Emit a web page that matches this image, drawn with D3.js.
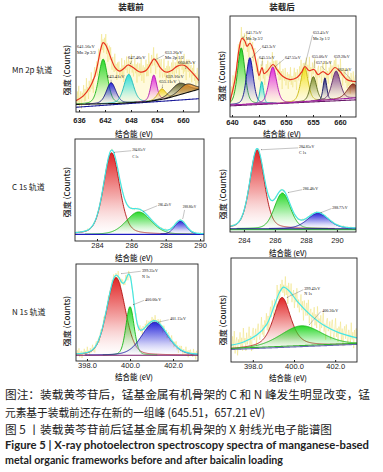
<!DOCTYPE html>
<html lang="zh">
<head>
<meta charset="UTF-8">
<title>XPS spectra</title>
<script src="https://d3js.org/d3.v7.min.js"></script>
<style>
  body { margin: 0; background: #fff; }
  svg text { font-family: "Noto Sans CJK SC", "Noto Sans", sans-serif; fill: #222; }
  .tick text { font-family: "Liberation Sans", Arial, sans-serif; }
  .note { font-family: "Liberation Serif", "DejaVu Serif", serif; fill: #111; }
</style>
</head>
<body>
<svg id="fig" width="383" height="472"></svg>
<script>
// ---------- data (binding energy in eV, intensity in % of panel height) ----------
// Mn 2p before loading
const mnBeforeCenters = [641.56, 643.41, 647.46, 653.26, 655.11, 659.16, 660.87];
const mnBeforeHeights = [47, 22, 30, 27, 11, 12, 9];
const mnBeforeWidths  = [2.4, 2.6, 2.6, 1.6, 2.2, 4.5, 4.0];
const mnBeforeBg  = [[635.3, 8], [645, 9], [652, 11], [656, 14], [663.7, 24]];
const mnBeforeBg2 = [[635.3, 5], [663.7, 14]];
const mnBeforeEnvelope = [[635.3, 12], [637, 17], [638.5, 26], [639.5, 36], [640.2, 48], [641, 66],
  [641.55, 73], [642.1, 71], [642.7, 65], [643.5, 55], [644.3, 47], [645.4, 43], [646.4, 46],
  [647.3, 49.5], [648.4, 47], [649.3, 44], [650.2, 42], [651.2, 43], [651.9, 46], [652.7, 52],
  [653.3, 56], [654, 52.5], [654.7, 47], [655.6, 43], [656.5, 42], [657.5, 44], [658.6, 48],
  [659.8, 49.5], [660.6, 48.5], [661.6, 44], [662.6, 39], [663.7, 33]];
const mnBeforeTicks = [636, 642, 648, 654, 660];

// Mn 2p after loading
const mnAfterCenters = [641.71, 643.3, 645.51, 647.55, 653.41, 655.06, 657.21, 659.28, 662.4];
const mnAfterHeights = [56, 46, 22, 36, 34, 24, 22, 28, 14];
const mnAfterWidths  = [1.6, 1.5, 0.8, 1.7, 1.6, 1.4, 0.8, 1.8, 2.5];
const mnAfterBg  = [[639.6, 12], [650, 14], [663, 19]];
const mnAfterBg2 = [[639.6, 11], [663, 17]];
const mnAfterEnvelope = [[639.6, 15], [640.56, 37], [641.3, 67], [641.85, 78], [642.4, 75], [642.78, 70],
  [643.33, 73], [643.9, 67], [644.63, 50], [645.0, 41], [645.56, 49], [645.93, 43], [646.48, 45],
  [647.6, 52], [648.33, 47], [649.44, 40], [650.74, 37], [652.04, 39], [652.96, 45], [653.5, 50],
  [654.26, 46], [655.2, 47], [655.93, 42], [656.85, 45], [657.78, 42], [659.07, 49], [660.0, 45],
  [661.3, 37], [663, 35]];
const mnAfterTicks = [640, 645, 650, 655, 660];

// C 1s
const cBeforeCenters = [284.85, 286.43, 288.86];
const cBeforeHeights = [80, 22, 13];
const cBeforeWidths  = [1.1, 1.7, 0.8];
const cBeforeBg = [[282.7, 6.5], [290.3, 6.5]];
const cAfterCenters = [284.85, 286.48, 288.77];
const cAfterHeights = [84, 38, 16.5];
const cAfterWidths  = [1.1, 1.2, 1.6];
const cAfterBg = [[283.1, 3.5], [291.3, 3.5]];
const cTicks = [284, 286, 288, 290];

// N 1s
const nBeforeCenters = [399.35, 400.0, 401.15];
const nBeforeHeights = [80, 50, 34];
const nBeforeWidths  = [1.0, 0.45, 1.4];
const nBeforeBg = [[397.4, 6], [403.2, 6]];
const nAfterCenters = [399.42, 400.36];
const nAfterHeights = [48, 20];
const nAfterWidths  = [1.0, 2.4];
const nAfterBg = [[396.9, 12], [403.1, 17]];
const nAfterEnvelope = [[396.9, 16], [397.52, 19], [398.19, 26], [398.67, 36], [399.06, 55], [399.3, 67],
  [399.49, 72], [399.78, 68], [400.17, 58], [400.75, 46], [401.47, 35], [402.2, 28], [403.1, 23]];
const nTicks = [398, 400, 402];

// Lorentzian share of each fitted peak
const mnBeforeMix = [0.3, 0.3, 0.3, 0.3, 0.3, 0.2, 0.2];
const mnAfterMix  = [0.3, 0.3, 0.2, 0.3, 0.3, 0.3, 0.2, 0.3, 0.3];
const cBeforeMix  = [0.3, 0.2, 0.2];
const cAfterMix   = [0.3, 0.2, 0.3];
const nBeforeMix  = [0.2, 0.2, 0.2];
const nAfterMix   = [0.6, 0.3];

// raw-count residuals read around the fitted envelope (scaled per panel)
const residuals = [0.12, -0.35, 0.58, -0.22, 0.91, -0.64, 0.18, 0.44, -0.81, 0.27, -0.09, 0.73, -0.48, 0.33,
  -0.57, 0.96, -0.12, 0.21, -0.69, 0.52, -0.31, 0.08, 0.84, -0.43, 0.15, -0.92, 0.38, 0.61, -0.26, -0.05,
  0.47, -0.74, 0.29, 0.67, -0.18, -0.55, 0.11, 0.88, -0.37, 0.24, -0.66, 0.42, -0.03, 0.79, -0.51, 0.35,
  -0.84, 0.19, 0.56, -0.29, 0.71, -0.14, -0.62, 0.39, 0.05, -0.46, 0.93, -0.21, 0.31, -0.77, 0.49, -0.08,
  0.63, -0.33, 0.17, -0.58, 0.82, -0.41, 0.26, -0.95, 0.54, 0.02, -0.24, 0.68, -0.53, 0.13, 0.45, -0.71,
  0.36, -0.16, 0.87, -0.39, 0.22, -0.6, 0.09, 0.75, -0.27, 0.4, -0.86, 0.57];

// peak labels: [text, eV, intensity]  and leaders: [fromEV, fromI, toEV, toI]
const mnBeforeNotes = [['641.56eV', 635.55, 67], ['Mn 2p 3/2', 635.55, 61], ['643.41eV', 642.45, 36],
  ['647.46eV', 647.3, 56], ['653.26eV', 655.85, 61], ['Mn 2p 1/2', 655.85, 56], ['660.87eV', 658.85, 50.5],
  ['659.16eV', 656.1, 36], ['655.11eV', 654.5, 30.5]];
const mnBeforeLeaders = [[643.4, 34, 643.4, 31], [648.2, 54, 647.9, 50.5], [655.7, 60, 653.6, 55],
  [660.6, 48.5, 660.7, 45.5], [655.3, 29, 655.2, 25.5], [659.0, 34, 659.3, 31]];
const mnAfterNotes = [['641.71eV', 642.6, 82], ['Mn 2p 3/2', 642.6, 76], ['643.3eV', 645.55, 68],
  ['645.51eV', 645.0, 57], ['647.55eV', 649.8, 57], ['653.41eV', 655.0, 82], ['Mn 2p 1/2', 655.0, 76],
  ['655.06eV', 654.8, 58], ['657.21eV', 655.55, 52], ['659.28eV', 658.9, 58], ['662.4eV', 659.6, 46]];
const mnAfterLeaders = [[642.5, 81, 642.0, 78.5], [645.4, 68.5, 643.7, 59], [645.6, 55.5, 645.55, 51],
  [649.7, 57.5, 648.0, 50], [654.9, 81, 653.5, 51], [655.3, 56, 655.2, 49], [656.6, 50.5, 657.1, 47],
  [660.8, 44.5, 662.2, 36]];
const cBeforeNotes = [['284.85eV', 286.05, 88], ['C 1s', 286.05, 81], ['286.43eV', 287.55, 34], ['288.86eV', 289.0, 32]];
const cBeforeLeaders = [[286.0, 88.5, 285.0, 87], [287.5, 34.5, 286.7, 29], [289.1, 30.5, 289.0, 22]];
const cAfterNotes = [['284.85eV', 287.55, 89], ['C 1s', 287.55, 83], ['286.48eV', 287.8, 44.7], ['288.77eV', 289.7, 24.5]];
const cAfterLeaders = [[287.5, 89.5, 285.1, 87.5], [287.75, 45, 286.85, 42], [289.65, 25, 288.95, 20.5]];
const nBeforeNotes = [['399.35eV', 400.56, 92], ['N 1s', 400.56, 85.5], ['400.00eV', 400.7, 62], ['401.15eV', 401.86, 42]];
const nBeforeLeaders = [[400.5, 92.5, 399.6, 90], [400.65, 62.5, 400.15, 58], [401.8, 42.5, 401.3, 40]];
const nAfterNotes = [['399.42eV', 400.5, 69], ['N 1s', 400.5, 64], ['400.36eV', 401.37, 48]];
const nAfterLeaders = [[400.45, 69.5, 399.65, 62], [401.3, 48.5, 400.75, 36]];

// ---------- styles / layout ----------
const mnBeforeColors = ['#1fd61f', '#1c1cd8', '#1fdcdc', '#e01fe0', '#f2d21a', '#5f5f2a', '#e5902a'];
const mnBeforeStrokes = ['#15b515', '#101080', '#18b8b8', '#b015b0', '#c8a810', '#222', '#222'];
const mnAfterColors = ['#1fd61f', '#1c1cd8', '#1fdcdc', '#e01fe0', '#f2e21a', '#7f8f2a', '#1a1a80', '#7a3a8a', '#8b2a1a'];
const mnAfterStrokes = ['#15a015', '#101090', '#18b8b8', '#b015b0', '#c8b810', '#5a6a1a', '#101060', '#5a2a6a', '#7a2010'];
const cnColors = ['#e01a1a', '#1fd61f', '#1c1cd8'];
const cnStrokes = ['#b01010', '#15b515', '#1010a0'];
const nAfterColors = ['#e01a1a', '#1fd61f'];

const panels = [
  { box: [76, 199, 17, 112], dom: [635.3, 663.7], ticks: mnBeforeTicks, pad: 6, tickW: 600,
    c: mnBeforeCenters, h: mnBeforeHeights, w: mnBeforeWidths, mix: mnBeforeMix, bg: mnBeforeBg, bg2: mnBeforeBg2,
    env: mnBeforeEnvelope, colors: mnBeforeColors, strokes: mnBeforeStrokes, envColor: '#e8321e',
    bgColor: '#111', bg2Color: '#1c1c9a', noise: 15, step: 0.16, rawFill: true,
    notes: mnBeforeNotes, leaders: mnBeforeLeaders, noteSize: 4.5,
    xTitle: [134, 136.5], yTitle: [70, 70] },
  { box: [230, 356, 16, 117], dom: [639.63, 662.96], ticks: mnAfterTicks, pad: 2.5, tickW: 600,
    c: mnAfterCenters, h: mnAfterHeights, w: mnAfterWidths, mix: mnAfterMix, bg: mnAfterBg, bg2: mnAfterBg2,
    env: mnAfterEnvelope, colors: mnAfterColors, strokes: mnAfterStrokes, envColor: '#e8321e',
    bgColor: '#a020a0', bg2Color: '#6a1a6a', noise: 14, step: 0.14, rawFill: true,
    notes: mnAfterNotes, leaders: mnAfterLeaders, noteSize: 4.0,
    xTitle: [282, 137], yTitle: [225, 76] },
  { box: [75, 204, 139, 241], dom: [282.72, 290.23], ticks: cTicks, pad: 2, tickW: 400,
    c: cBeforeCenters, h: cBeforeHeights, w: cBeforeWidths, mix: cBeforeMix, bg: cBeforeBg,
    colors: cnColors, strokes: cnStrokes, envColor: '#44e6e6', bgColor: '#1c1cc0',
    noise: 1.5, step: 0.05, notes: cBeforeNotes, leaders: cBeforeLeaders, noteSize: 3.4,
    xTitle: [134, 260.5], yTitle: [70, 192] },
  { box: [230, 356, 138, 232], dom: [283.1, 291.23], ticks: cTicks, pad: 5.5, tickW: 400,
    c: cAfterCenters, h: cAfterHeights, w: cAfterWidths, mix: cAfterMix, bg: cAfterBg,
    colors: cnColors, strokes: cnStrokes, envColor: '#44e6e6', bgColor: '#1a1a80', bg2: [[283.1, 2.5], [291.3, 2.5]], bg2Color: '#40c040',
    noise: 1.5, step: 0.05, notes: cAfterNotes, leaders: cAfterLeaders, noteSize: 3.9,
    xTitle: [288, 255.5], yTitle: [226, 194] },
  { box: [76, 198, 264, 361], dom: [397.49, 403.16], ticks: nTicks, pad: 2, tickW: 400,
    c: nBeforeCenters, h: nBeforeHeights, w: nBeforeWidths, mix: nBeforeMix, bg: nBeforeBg,
    colors: cnColors, strokes: cnStrokes, envColor: '#44e6e6', bgColor: '#7a1a6a',
    noise: 6, step: 0.035, notes: nBeforeNotes, leaders: nBeforeLeaders, noteSize: 4.1,
    xTitle: [134, 379.5], yTitle: [70, 321] },
  { box: [231, 357, 258, 362], dom: [396.94, 403.06], ticks: nTicks, pad: 1.5, tickW: 400,
    c: nAfterCenters, h: nAfterHeights, w: nAfterWidths, mix: nAfterMix, bg: nAfterBg,
    env: nAfterEnvelope, colors: nAfterColors, strokes: ['#b01010', '#15b515'], envColor: '#44e6e6',
    bgColor: '#6a6ab0', bg2: [[396.9, 13], [403.1, 18]], bg2Color: '#30b030',
    noise: 14, step: 0.04, notes: nAfterNotes, leaders: nAfterLeaders, noteSize: 4.1,
    xTitle: [288, 380.5], yTitle: [226, 320] }
];

// ---------- helpers ----------
function pv(x, c, h, w, eta) {
  const d = (x - c) / w;
  return h * (eta / (1 + 4 * d * d) + (1 - eta) * Math.exp(-4 * Math.LN2 * d * d));
}
function nodeAt(nodes, x) {
  if (x <= nodes[0][0]) return nodes[0][1];
  for (let i = 1; i < nodes.length; i++) {
    if (x <= nodes[i][0]) {
      const [x0, y0] = nodes[i - 1], [x1, y1] = nodes[i];
      return y0 + (y1 - y0) * (x - x0) / (x1 - x0);
    }
  }
  return nodes[nodes.length - 1][1];
}

const svg = d3.select('#fig');
const defs = svg.append('defs');
defs.append('marker').attr('id', 'arr').attr('viewBox', '0 0 6 6').attr('refX', 5).attr('refY', 3)
  .attr('markerWidth', 3).attr('markerHeight', 3).attr('orient', 'auto')
  .append('path').attr('d', 'M0,0L6,3L0,6Z').attr('fill', '#444');

panels.forEach((p, pi) => {
  const [x0, x1, y0, y1] = p.box;
  const x = d3.scaleLinear().domain(p.dom).range([x0, x1]);
  const y = d3.scaleLinear().domain([0, 100]).range([y1, y0]);
  const xs = d3.range(p.dom[0], p.dom[1] + 1e-9, (p.dom[1] - p.dom[0]) / 300);
  const bgAt = v => nodeAt(p.bg, v);
  const comp = (v, i) => pv(v, p.c[i], p.h[i], p.w[i], p.mix[i]);
  const envAt = p.env ? (v => nodeAt(p.env, v))
                      : (v => bgAt(v) + p.c.reduce((s, _, i) => s + comp(v, i), 0));

  defs.append('clipPath').attr('id', 'clip' + pi).append('rect')
    .attr('x', x0).attr('y', y0).attr('width', x1 - x0).attr('height', y1 - y0);
  const g = svg.append('g').attr('clip-path', `url(#clip${pi})`);

  // raw counts
  const raw = d3.range(p.dom[0], p.dom[1], p.step).map((v, i) =>
    [v, envAt(v) + p.noise * residuals[i % residuals.length]]);
  if (p.rawFill) {
    g.append('path').datum(raw)
      .attr('d', d3.area().x(d => x(d[0])).y0(d => y(bgAt(d[0]))).y1(d => y(d[1])))
      .attr('fill', '#fff6c4').attr('opacity', 0.6);
  }
  g.append('path').datum(raw)
    .attr('d', d3.line().x(d => x(d[0])).y(d => y(d[1])))
    .attr('fill', 'none').attr('stroke', '#f0e27a').attr('stroke-width', 0.6).attr('opacity', 0.85);

  // fitted components
  p.c.forEach((_, i) => {
    const gid = `gr${pi}_${i}`;
    const lg = defs.append('linearGradient').attr('id', gid)
      .attr('x1', 0).attr('y1', 0).attr('x2', 0).attr('y2', 1);
    lg.append('stop').attr('offset', 0).attr('stop-color', p.colors[i]).attr('stop-opacity', 0.95);
    lg.append('stop').attr('offset', 0.55).attr('stop-color', p.colors[i]).attr('stop-opacity', 0.35);
    lg.append('stop').attr('offset', 1).attr('stop-color', '#ffffff').attr('stop-opacity', 0.15);
    const pts = xs.map(v => [v, bgAt(v), bgAt(v) + comp(v, i)]).filter(d => d[2] - d[1] > 0.3);
    g.append('path').datum(pts)
      .attr('d', d3.area().x(d => x(d[0])).y0(d => y(d[1])).y1(d => y(d[2])))
      .attr('fill', `url(#${gid})`);
    g.append('path').datum(pts)
      .attr('d', d3.line().x(d => x(d[0])).y(d => y(d[2])))
      .attr('fill', 'none').attr('stroke', p.strokes[i]).attr('stroke-width', 0.9);
  });

  // background lines
  if (p.bg2) {
    g.append('path').datum(xs).attr('d', d3.line().x(v => x(v)).y(v => y(nodeAt(p.bg2, v))))
      .attr('fill', 'none').attr('stroke', p.bg2Color).attr('stroke-width', 1.1);
  }
  g.append('path').datum(xs).attr('d', d3.line().x(v => x(v)).y(v => y(bgAt(v))))
    .attr('fill', 'none').attr('stroke', p.bgColor).attr('stroke-width', 1.1);

  // envelope
  const envPts = p.env ? p.env : xs.map(v => [v, envAt(v)]);
  g.append('path').datum(envPts)
    .attr('d', d3.line().x(d => x(d[0])).y(d => y(d[1])).curve(d3.curveCatmullRom))
    .attr('fill', 'none').attr('stroke', p.envColor).attr('stroke-width', 1.2);

  // labels
  p.leaders.forEach(l => {
    svg.append('line').attr('x1', x(l[0])).attr('y1', y(l[1])).attr('x2', x(l[2])).attr('y2', y(l[3]))
      .attr('stroke', '#555').attr('stroke-width', 0.35).attr('marker-end', 'url(#arr)');
  });
  p.notes.forEach(n => {
    svg.append('text').attr('class', 'note').attr('x', x(n[1])).attr('y', y(n[2]))
      .attr('font-size', p.noteSize).text(n[0]);
  });

  // frame + axis
  svg.append('rect').attr('x', x0).attr('y', y0).attr('width', x1 - x0).attr('height', y1 - y0)
    .attr('fill', 'none').attr('stroke', '#222').attr('stroke-width', 0.9);
  const ax = svg.append('g').attr('transform', `translate(0,${y1})`)
    .call(d3.axisBottom(x).tickValues(p.ticks).tickSizeInner(-2).tickSizeOuter(0).tickPadding(p.pad));
  ax.select('.domain').remove();
  ax.selectAll('.tick line').attr('stroke', '#222');
  ax.selectAll('.tick text').attr('font-size', 7.5).attr('font-weight', p.tickW).attr('fill', '#222');

  svg.append('text').attr('x', p.xTitle[0]).attr('y', p.xTitle[1]).attr('text-anchor', 'middle')
    .attr('font-size', 7.5).attr('font-weight', 500).text('结合能 (eV)');
  svg.append('text').attr('transform', `translate(${p.yTitle[0]},${p.yTitle[1]}) rotate(-90)`)
    .attr('text-anchor', 'middle').attr('font-size', 8).attr('font-weight', 500).text('强度 (Counts)');
});

// column and row headings
svg.append('text').attr('x', 131).attr('y', 10).attr('text-anchor', 'middle')
  .attr('font-size', 8.5).attr('font-weight', 700).text('装载前');
svg.append('text').attr('x', 282).attr('y', 10).attr('text-anchor', 'middle')
  .attr('font-size', 8.5).attr('font-weight', 700).text('装载后');
[['Mn 2p 轨道', 73], ['C 1s 轨道', 190], ['N 1s 轨道', 315]].forEach(r => {
  svg.append('text').attr('x', 12).attr('y', r[1]).attr('font-size', 8).text(r[0]);
});

// caption
const caption = [
  ['图注：装载黄芩苷后，锰基金属有机骨架的 C 和 N 峰发生明显改变，锰', 399, 365, 400, 11.5],
  ['元素基于装载前还存在新的一组峰 (645.51，657.21 eV)', 417, 260, 400, 11.5],
  ['图 5 丨装载黄芩苷前后锰基金属有机骨架的 X 射线光电子能谱图', 434, 327, 400, 11.5],
  ['Figure 5   |   X-ray photoelectron spectroscopy spectra of manganese-based', 449, 364, 700, 11],
  ['metal organic frameworks before and after baicalin loading', 464, 278, 700, 11]
];
caption.forEach((c, i) => {
  svg.append('text').attr('x', 5).attr('y', c[1]).attr('textLength', c[2])
    .attr('lengthAdjust', 'spacingAndGlyphs').attr('font-size', c[4]).attr('font-weight', c[3])
    .style('font-family', i > 2 ? 'Lato, "Open Sans", sans-serif' : null)
    .attr('fill', '#2a2a2a').text(c[0]);
});
</script>
</body>
</html>
